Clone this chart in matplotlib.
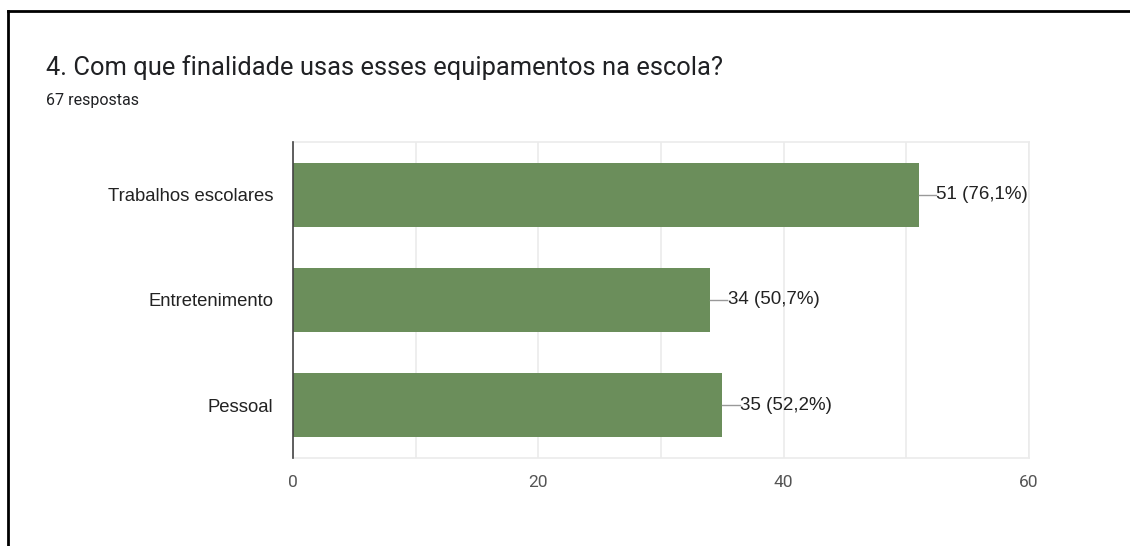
import matplotlib.pyplot as plt
from matplotlib.lines import Line2D

categories = ["Trabalhos escolares", "Entretenimento", "Pessoal"]
counts = [51, 34, 35]
percents = ["76,1%", "50,7%", "52,2%"]
ticks = [0, 20, 40, 60]

title = "4. Com que finalidade usas esses equipamentos na escola?"
subtitle = "67 respostas"

bar_color = "#6b8e5b"
grid_color = "#ebebeb"

fig = plt.figure(figsize=(11.3, 5.46), dpi=100)
fig.patch.set_facecolor("white")

# frame of the screenshot (top and left edges)
fig.add_artist(Line2D([8 / 1130, 8 / 1130], [0, 1 - 11 / 546], color="black", lw=2))
fig.add_artist(Line2D([8 / 1130, 1], [1 - 11 / 546, 1 - 11 / 546], color="black", lw=2))

fig.text(46 / 1130, 1 - 68 / 546, title, fontsize=18.4, family="Roboto",
         color="#202124", va="center", ha="left")
fig.text(46 / 1130, 1 - 100 / 546, subtitle, fontsize=11.5, family="Roboto",
         color="#202124", va="center", ha="left")

ax = fig.add_axes([293 / 1130, 1 - 458 / 546, 736 / 1130, 316 / 546])
y = list(range(len(categories)))
ax.barh(y, counts, height=0.61, color=bar_color, zorder=3)

ax.set_xlim(0, 60)
ax.set_ylim(len(categories) - 0.5, -0.5)
ax.set_xticks(ticks)
ax.set_xticks(range(0, 61, 10), minor=True)
ax.set_xticklabels([str(t) for t in ticks], family="Roboto", fontsize=12.5, color="#555555")
ax.set_yticks(y)
ax.set_yticklabels(categories, family="Liberation Sans", fontsize=13.3, color="#222222")
ax.tick_params(axis="x", length=0, pad=12)
ax.tick_params(axis="y", length=0, pad=14)
ax.tick_params(axis="x", which="minor", length=0)
ax.grid(axis="x", which="both", color=grid_color, lw=1.2, zorder=0)

for side in ["top", "right", "bottom"]:
    ax.spines[side].set_color(grid_color)
    ax.spines[side].set_linewidth(1.2)
ax.spines["left"].set_color("#444444")
ax.spines["left"].set_linewidth(1.2)
ax.spines["left"].set_zorder(4)

for yi, c, p in zip(y, counts, percents):
    ax.plot([c, c + 1.4], [yi, yi], color="#999999", lw=1, zorder=4, clip_on=False)
    ax.text(c + 1.45, yi, f"{c} ({p})", va="center", ha="left",
            family="Liberation Sans", fontsize=13.5, color="#222222")

fig.savefig("out.png", dpi=100)
